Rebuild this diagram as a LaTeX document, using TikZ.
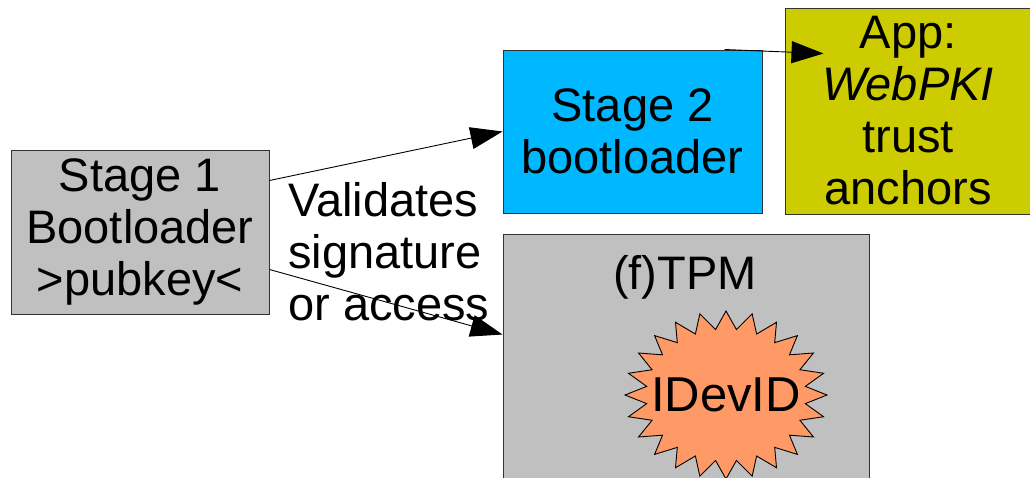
\documentclass[tikz,border=0pt]{standalone}
\usepackage{fontspec}
\setmainfont{Liberation Sans}
\usetikzlibrary{arrows.meta,calc}
\definecolor{boxgray}{HTML}{C0C0C0}
\definecolor{stagecyan}{HTML}{00B8FF}
\definecolor{appolive}{HTML}{CCCC00}
\definecolor{burstorange}{HTML}{FF9966}
\definecolor{edgegray}{HTML}{333333}
\begin{document}
\begin{tikzpicture}[x=1pt,y=-1pt,
  box/.style={draw=edgegray, line width=1pt, inner sep=0pt, align=center,
    font=\fontsize{47}{52}\selectfont},
  txt/.style={inner sep=0pt, font=\fontsize{47}{52}\selectfont},
  conn/.style={line width=0.9pt, -{Triangle[length=32pt,width=22pt]}},
  burst/.style={draw=black, line width=0.9pt, fill=burstorange}]
\useasboundingbox (0,0) rectangle (1030,477);
\clip (0,0) rectangle (1030,477);
% boxes
\node[box, fill=boxgray, minimum width=258pt, minimum height=164pt] (s1) at (140,232)
  {Stage 1\\Bootloader\\>pubkey<};
\node[box, fill=stagecyan, minimum width=259pt, minimum height=163pt] (s2) at (632.5,131.5)
  {Stage 2\\bootloader};
\node[box, fill=appolive, minimum width=246pt, minimum height=206pt] (app) at (908,111)
  {App:\\\textit{WebPKI}\\trust\\anchors};
\node[box, fill=boxgray, minimum width=366pt, minimum height=266pt] (tpm) at (686,367) {};
\node[txt, anchor=base] (tpmt) at (685,289) {(f)TPM};
% starburst
\coordinate (c) at (726,395);
\draw[burst] ($(c)+(0:101 and 84)$)
  \foreach \k in {0,...,23} {
    -- ($(c)+(15*\k+7.5:80 and 66)$) -- ($(c)+(15*\k+15:101 and 84)$)
  } -- cycle;
\node[txt, font=\fontsize{49}{54}\selectfont] (idevid) at (c) {IDevID};
% label
\node[txt, anchor=west, align=left] (val) at (288,252) {Validates\\signature\\or access};
% connectors
\coordinate (a1s) at ($(s1.north east)+(0,31)$);
\coordinate (a1e) at ($(s2.north west)+(0,82)$);
\coordinate (a2s) at ($(s1.north east)+(0,120)$);
\coordinate (a2e) at ($(tpm.north west)+(0,101)$);
\coordinate (a3s) at ($(s2.north west)+(222,0)$);
\coordinate (a3e) at ($(app.north west)+(39,46)$);
\draw[conn] (a1s) -- (a1e);
\draw[conn] (a2s) -- (a2e);
\draw[conn] (a3s) -- (a3e);
\end{tikzpicture}
\end{document}
